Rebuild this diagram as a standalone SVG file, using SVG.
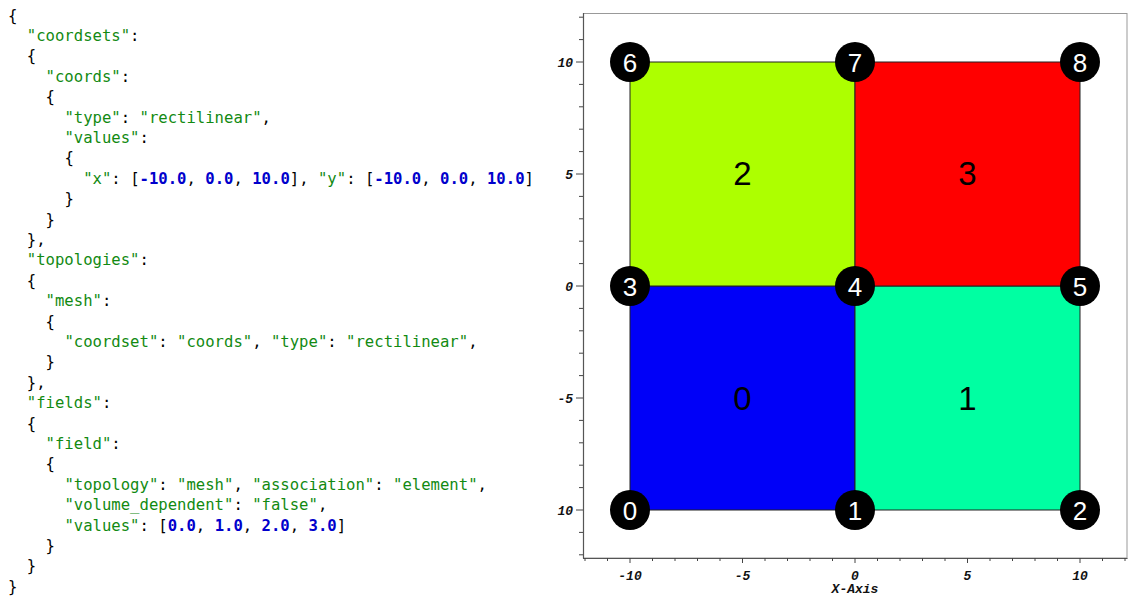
<svg xmlns="http://www.w3.org/2000/svg" width="1136" height="603" viewBox="0 0 1136 603">
<style>
.j{font-family:"DejaVu Sans Mono","Liberation Mono",monospace;font-size:15.6px;fill:#000}
.s{fill:#128a12}
.n{fill:#0000cc;font-weight:bold}
.ax{font-family:"Liberation Mono",monospace;font-size:13px;font-weight:bold;font-style:italic;fill:#111}
.cl{font-family:"Liberation Sans","DejaVu Sans",sans-serif;font-size:33px;fill:#000;text-anchor:middle}
.nl{font-family:"Liberation Sans","DejaVu Sans",sans-serif;font-size:26px;fill:#fff;text-anchor:middle}
.cell{stroke:#222;stroke-width:1}
.tk{stroke:#444;stroke-width:1}
</style>
<rect width="1136" height="603" fill="#fff"/>
<g id="json">
<text class="j" xml:space="preserve" x="8" y="20.5">{</text>
<text class="j" xml:space="preserve" x="26.8" y="40.9"><tspan class="s">"coordsets"</tspan>:</text>
<text class="j" xml:space="preserve" x="26.8" y="61.3">{</text>
<text class="j" xml:space="preserve" x="45.6" y="81.7"><tspan class="s">"coords"</tspan>:</text>
<text class="j" xml:space="preserve" x="45.6" y="102.1">{</text>
<text class="j" xml:space="preserve" x="64.4" y="122.5"><tspan class="s">"type"</tspan>: <tspan class="s">"rectilinear"</tspan>,</text>
<text class="j" xml:space="preserve" x="64.4" y="142.9"><tspan class="s">"values"</tspan>:</text>
<text class="j" xml:space="preserve" x="64.4" y="163.3">{</text>
<text class="j" xml:space="preserve" x="83.2" y="183.7"><tspan class="s">"x"</tspan>: [<tspan class="n">-10.0</tspan>, <tspan class="n">0.0</tspan>, <tspan class="n">10.0</tspan>], <tspan class="s">"y"</tspan>: [<tspan class="n">-10.0</tspan>, <tspan class="n">0.0</tspan>, <tspan class="n">10.0</tspan>]</text>
<text class="j" xml:space="preserve" x="64.4" y="204.1">}</text>
<text class="j" xml:space="preserve" x="45.6" y="224.5">}</text>
<text class="j" xml:space="preserve" x="26.8" y="244.9">},</text>
<text class="j" xml:space="preserve" x="26.8" y="265.3"><tspan class="s">"topologies"</tspan>:</text>
<text class="j" xml:space="preserve" x="26.8" y="285.7">{</text>
<text class="j" xml:space="preserve" x="45.6" y="306.1"><tspan class="s">"mesh"</tspan>:</text>
<text class="j" xml:space="preserve" x="45.6" y="326.5">{</text>
<text class="j" xml:space="preserve" x="64.4" y="346.9"><tspan class="s">"coordset"</tspan>: <tspan class="s">"coords"</tspan>, <tspan class="s">"type"</tspan>: <tspan class="s">"rectilinear"</tspan>,</text>
<text class="j" xml:space="preserve" x="45.6" y="367.3">}</text>
<text class="j" xml:space="preserve" x="26.8" y="387.7">},</text>
<text class="j" xml:space="preserve" x="26.8" y="408.1"><tspan class="s">"fields"</tspan>:</text>
<text class="j" xml:space="preserve" x="26.8" y="428.5">{</text>
<text class="j" xml:space="preserve" x="45.6" y="448.9"><tspan class="s">"field"</tspan>:</text>
<text class="j" xml:space="preserve" x="45.6" y="469.3">{</text>
<text class="j" xml:space="preserve" x="64.4" y="489.7"><tspan class="s">"topology"</tspan>: <tspan class="s">"mesh"</tspan>, <tspan class="s">"association"</tspan>: <tspan class="s">"element"</tspan>,</text>
<text class="j" xml:space="preserve" x="64.4" y="510.1"><tspan class="s">"volume_dependent"</tspan>: <tspan class="s">"false"</tspan>,</text>
<text class="j" xml:space="preserve" x="64.4" y="530.5"><tspan class="s">"values"</tspan>: [<tspan class="n">0.0</tspan>, <tspan class="n">1.0</tspan>, <tspan class="n">2.0</tspan>, <tspan class="n">3.0</tspan>]</text>
<text class="j" xml:space="preserve" x="45.6" y="550.9">}</text>
<text class="j" xml:space="preserve" x="26.8" y="571.3">}</text>
<text class="j" xml:space="preserve" x="8" y="591.7">}</text>
</g>
<g id="plot-frame">
<rect x="583.5" y="13.5" width="543.5" height="544.5" fill="#fff" stroke="#999" stroke-width="1"/>
<line x1="583.5" y1="13" x2="583.5" y2="558.5" stroke="#555" stroke-width="1.2"/>
<line x1="583" y1="558.5" x2="1127.5" y2="558.5" stroke="#555" stroke-width="1.2"/>
<path class="tk" d="M585,558v3M607.5,558v3M630,558v5M652.5,558v3M675,558v3M697.5,558v3M720,558v3M742.5,558v5M765,558v3M787.5,558v3M810,558v3M832.5,558v3M855,558v5M877.5,558v3M900,558v3M922.5,558v3M945,558v3M967.5,558v5M990,558v3M1012.5,558v3M1035,558v3M1057.5,558v3M1080,558v5M1102.5,558v3M1125,558v3"/>
<path class="tk" d="M583,17.2h-4M583,39.6h-4M583,62h-7M583,84.4h-4M583,106.8h-4M583,129.2h-4M583,151.6h-4M583,174h-7M583,196.4h-4M583,218.8h-4M583,241.2h-4M583,263.6h-4M583,286h-7M583,308.4h-4M583,330.8h-4M583,353.2h-4M583,375.6h-4M583,398h-7M583,420.4h-4M583,442.8h-4M583,465.2h-4M583,487.6h-4M583,510h-7M583,532.4h-4M583,554.8h-4"/>
<g class="ax" text-anchor="middle">
<text x="630" y="580">-10</text>
<text x="742.5" y="580">-5</text>
<text x="855" y="580">0</text>
<text x="967.5" y="580">5</text>
<text x="1080" y="580">10</text>
<text x="855" y="593">X-Axis</text>
</g>
<g class="ax" text-anchor="end">
<text x="573" y="66.5">10</text>
<text x="573" y="178.5">5</text>
<text x="573" y="290.5">0</text>
<text x="573" y="402.5">-5</text>
<text x="573" y="514.5">10</text>
</g>
</g>
<g id="cell-0"><rect class="cell" x="630" y="286" width="225" height="224" fill="#0000f8"/><text class="cl" x="742.5" y="410">0</text></g>
<g id="cell-1"><rect class="cell" x="855" y="286" width="225" height="224" fill="#00ffa2"/><text class="cl" x="967.5" y="410">1</text></g>
<g id="cell-2"><rect class="cell" x="630" y="62" width="225" height="224" fill="#adff00"/><text class="cl" x="742.5" y="185">2</text></g>
<g id="cell-3"><rect class="cell" x="855" y="62" width="225" height="224" fill="#ff0000"/><text class="cl" x="967.5" y="185">3</text></g>
<g id="connectors"></g>
<g id="node-0"><circle cx="630" cy="510" r="20"/><text class="nl" x="630" y="519.5">0</text></g>
<g id="node-1"><circle cx="855" cy="510" r="20"/><text class="nl" x="855" y="519.5">1</text></g>
<g id="node-2"><circle cx="1080" cy="510" r="20"/><text class="nl" x="1080" y="519.5">2</text></g>
<g id="node-3"><circle cx="630" cy="286" r="20"/><text class="nl" x="630" y="295.5">3</text></g>
<g id="node-4"><circle cx="855" cy="286" r="20"/><text class="nl" x="855" y="295.5">4</text></g>
<g id="node-5"><circle cx="1080" cy="286" r="20"/><text class="nl" x="1080" y="295.5">5</text></g>
<g id="node-6"><circle cx="630" cy="62" r="20"/><text class="nl" x="630" y="71.5">6</text></g>
<g id="node-7"><circle cx="855" cy="62" r="20"/><text class="nl" x="855" y="71.5">7</text></g>
<g id="node-8"><circle cx="1080" cy="62" r="20"/><text class="nl" x="1080" y="71.5">8</text></g>
</svg>
